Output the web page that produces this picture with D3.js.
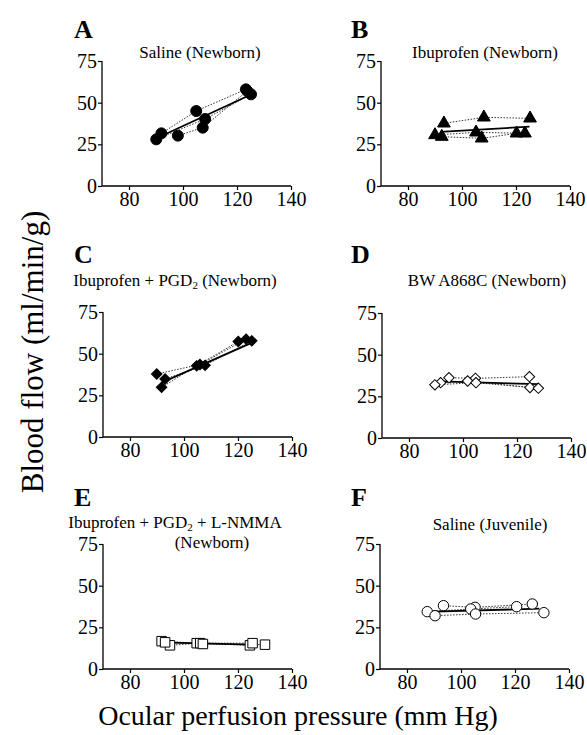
<!DOCTYPE html>
<html>
<head>
<meta charset="utf-8">
<script src="https://cdn.jsdelivr.net/npm/d3@7"></script>
<style>
  body { margin: 0; background: #fff; }
</style>
</head>
<body>
<div id="chart"></div>
<script>
// each panel: three animals (dotted lines) and the mean line (solid)
// points are [pressure, flow]
const panelLetters = ["A", "B", "C", "D", "E", "F"];

const animalsA = [
    [[92, 31.6], [104.9, 45], [123.3, 58]],
    [[90.1, 28], [108.2, 40.2], [125.2, 55]],
    [[98.1, 30.2], [107.3, 35], [123.8, 57]]
];
const meanA = [[90, 28.5], [124, 54]];

const animalsB = [
    [[93.3, 37.6], [108.1, 41.2], [125.2, 40.6]],
    [[90, 30.6], [105.2, 32.2], [123.3, 31.6]],
    [[92.5, 29.6], [107.3, 28.6], [120.2, 31.6]]
];
const meanB = [[92, 32.5], [125, 35.6]];

const animalsC = [
    [[89.9, 37.8], [105.9, 43.5], [123, 58.7]],
    [[91.7, 29.8], [104.7, 42.7], [120.1, 57.3]],
    [[93, 34.8], [107.8, 43], [125.1, 57.7]]
];
const meanC = [[91.5, 32.5], [125, 56.5]];

const animalsD = [
    [[94.8, 36.2], [104.6, 35.8], [124.6, 36.8]],
    [[91.7, 33.2], [101.7, 34.2], [124.8, 30.3]],
    [[89.6, 31.9], [104.8, 33.2], [127.9, 29.9]]
];
const meanD = [[91.5, 34], [128, 32.3]];

const animalsE = [
    [[91.7, 16.7], [104.7, 15.5], [124.4, 14.2]],
    [[94.8, 14.2], [106, 15.5], [125.4, 15.5]],
    [[93, 16], [107, 15], [130, 14.6]]
];
const meanE = [[95, 15.8], [125, 14.6]];

const animalsF = [
    [[93.5, 38], [105.2, 37], [126.4, 39]],
    [[87.5, 34.4], [103.6, 36], [120.6, 37.4]],
    [[90.4, 32], [105.4, 33], [130.7, 33.8]]
];
const meanF = [[90, 34.4], [129, 36.2]];

const xTicks = [80, 100, 120, 140];
const yTicks = [0, 25, 50, 75];

const titlesA = ["Saline (Newborn)"];
const titlesB = ["Ibuprofen (Newborn)"];
const titlesC = ["Ibuprofen + PGD|2| (Newborn)"];
const titlesD = ["BW A868C (Newborn)"];
const titlesE = ["Ibuprofen + PGD|2| + L-NMMA", "(Newborn)"];
const titlesF = ["Saline (Juvenile)"];

const width = 587, height = 735;
const serif = '"Liberation Serif", "Times New Roman", "DejaVu Serif", serif';

const svg = d3.select("#chart")
    .append("svg")
    .attr("width", width)
    .attr("height", height)
    .style("font-family", serif);

// layout of the six small plots
const panels = [
    {animals: animalsA, mean: meanA, titles: titlesA, left: 102, bottom: 186, tx: [200], ty: [58], sym: d3.symbolCircle, size: 95, fill: "#000", rot: 0},
    {animals: animalsB, mean: meanB, titles: titlesB, left: 381, bottom: 186, tx: [485], ty: [58], sym: d3.symbolTriangle, size: 70, fill: "#000", rot: 0},
    {animals: animalsC, mean: meanC, titles: titlesC, left: 103, bottom: 437, tx: [175], ty: [286], sym: d3.symbolSquare, size: 55, fill: "#000", rot: 45},
    {animals: animalsD, mean: meanD, titles: titlesD, left: 382, bottom: 438, tx: [487], ty: [286], sym: d3.symbolSquare, size: 55, fill: "#fff", rot: 45},
    {animals: animalsE, mean: meanE, titles: titlesE, left: 103, bottom: 669, tx: [175, 212], ty: [528, 548], sym: d3.symbolSquare, size: 90, fill: "#fff", rot: 0},
    {animals: animalsF, mean: meanF, titles: titlesF, left: 380, bottom: 669, tx: [490], ty: [530], sym: d3.symbolCircle, size: 85, fill: "#fff", rot: 0}
];

const pw = 189, ph = 125;

panels.forEach((p, i) => {
    let x = d3.scaleLinear().domain([70, 140]).range([p.left, p.left + pw]);
    let y = d3.scaleLinear().domain([0, 75]).range([p.bottom, p.bottom - ph]);

    let g = svg.append("g");

    // axes
    g.append("g")
        .attr("transform", `translate(0,${p.bottom})`)
        .call(d3.axisBottom(x).tickValues(xTicks).tickSize(4).tickPadding(2))
        .call(a => a.attr("font-family", null).attr("font-size", null))
        .call(a => a.select(".domain").attr("stroke-width", 1.3).attr("d", `M${p.left},0H${p.left + pw}`))
        .call(a => a.selectAll(".tick line").attr("stroke-width", 1.2))
        .call(a => a.selectAll("text").style("font-size", "20px").style("font-family", serif));

    g.append("g")
        .attr("transform", `translate(${p.left},0)`)
        .call(d3.axisLeft(y).tickValues(yTicks).tickSize(4).tickPadding(1))
        .call(a => a.attr("font-family", null).attr("font-size", null))
        .call(a => a.select(".domain").attr("stroke-width", 1.3).attr("d", `M0,${p.bottom}V${p.bottom - ph}`))
        .call(a => a.selectAll(".tick line").attr("stroke-width", 1.2))
        .call(a => a.selectAll("text").style("font-size", "20px").style("font-family", serif));

    let line = d3.line().x(d => x(d[0])).y(d => y(d[1]));

    // individual animals
    g.selectAll(".animal")
        .data(p.animals)
        .join("path")
        .attr("fill", "none")
        .attr("stroke", "#333")
        .attr("stroke-width", 1)
        .attr("stroke-dasharray", "1.5,1.5")
        .attr("d", line);

    // mean line
    g.append("path")
        .attr("fill", "none")
        .attr("stroke", "#000")
        .attr("stroke-width", 1.8)
        .attr("d", line(p.mean));

    // points
    g.selectAll(".pt")
        .data(p.animals.flat())
        .join("path")
        .attr("transform", d => `translate(${x(d[0])},${y(d[1])}) rotate(${p.rot})`)
        .attr("d", d3.symbol().type(p.sym).size(p.size))
        .attr("fill", p.fill)
        .attr("stroke", "#000")
        .attr("stroke-width", 1);

    // panel letter
    svg.append("text")
        .attr("x", i % 2 === 0 ? 74 : 351)
        .attr("y", [38, 38, 263, 263, 506, 506][i])
        .style("font-size", "26px")
        .style("font-weight", "bold")
        .style("font-family", serif)
        .text(panelLetters[i]);

    // title lines, "|2|" marks a subscript
    p.titles.forEach((t, j) => {
        let txt = svg.append("text")
            .attr("x", p.tx[j])
            .attr("y", p.ty[j])
            .attr("text-anchor", "middle")
            .style("font-size", "17px")
            .style("font-family", serif);
        t.split("|").forEach((part, k) => {
            if (k % 2 === 1) {
                txt.append("tspan").style("font-size", "11px").attr("dy", 3).text(part);
            } else {
                txt.append("tspan").attr("dy", k > 0 ? -3 : 0).text(part);
            }
        });
    });
});

// shared axis titles
svg.append("text")
    .attr("x", 298)
    .attr("y", 725)
    .attr("text-anchor", "middle")
    .style("font-size", "28px")
    .style("font-family", serif)
    .text("Ocular perfusion pressure (mm Hg)");

svg.append("text")
    .attr("transform", "translate(43,352) rotate(-90)")
    .attr("text-anchor", "middle")
    .style("font-size", "31px")
    .style("font-family", serif)
    .text("Blood flow (ml/min/g)");
</script>
</body>
</html>
